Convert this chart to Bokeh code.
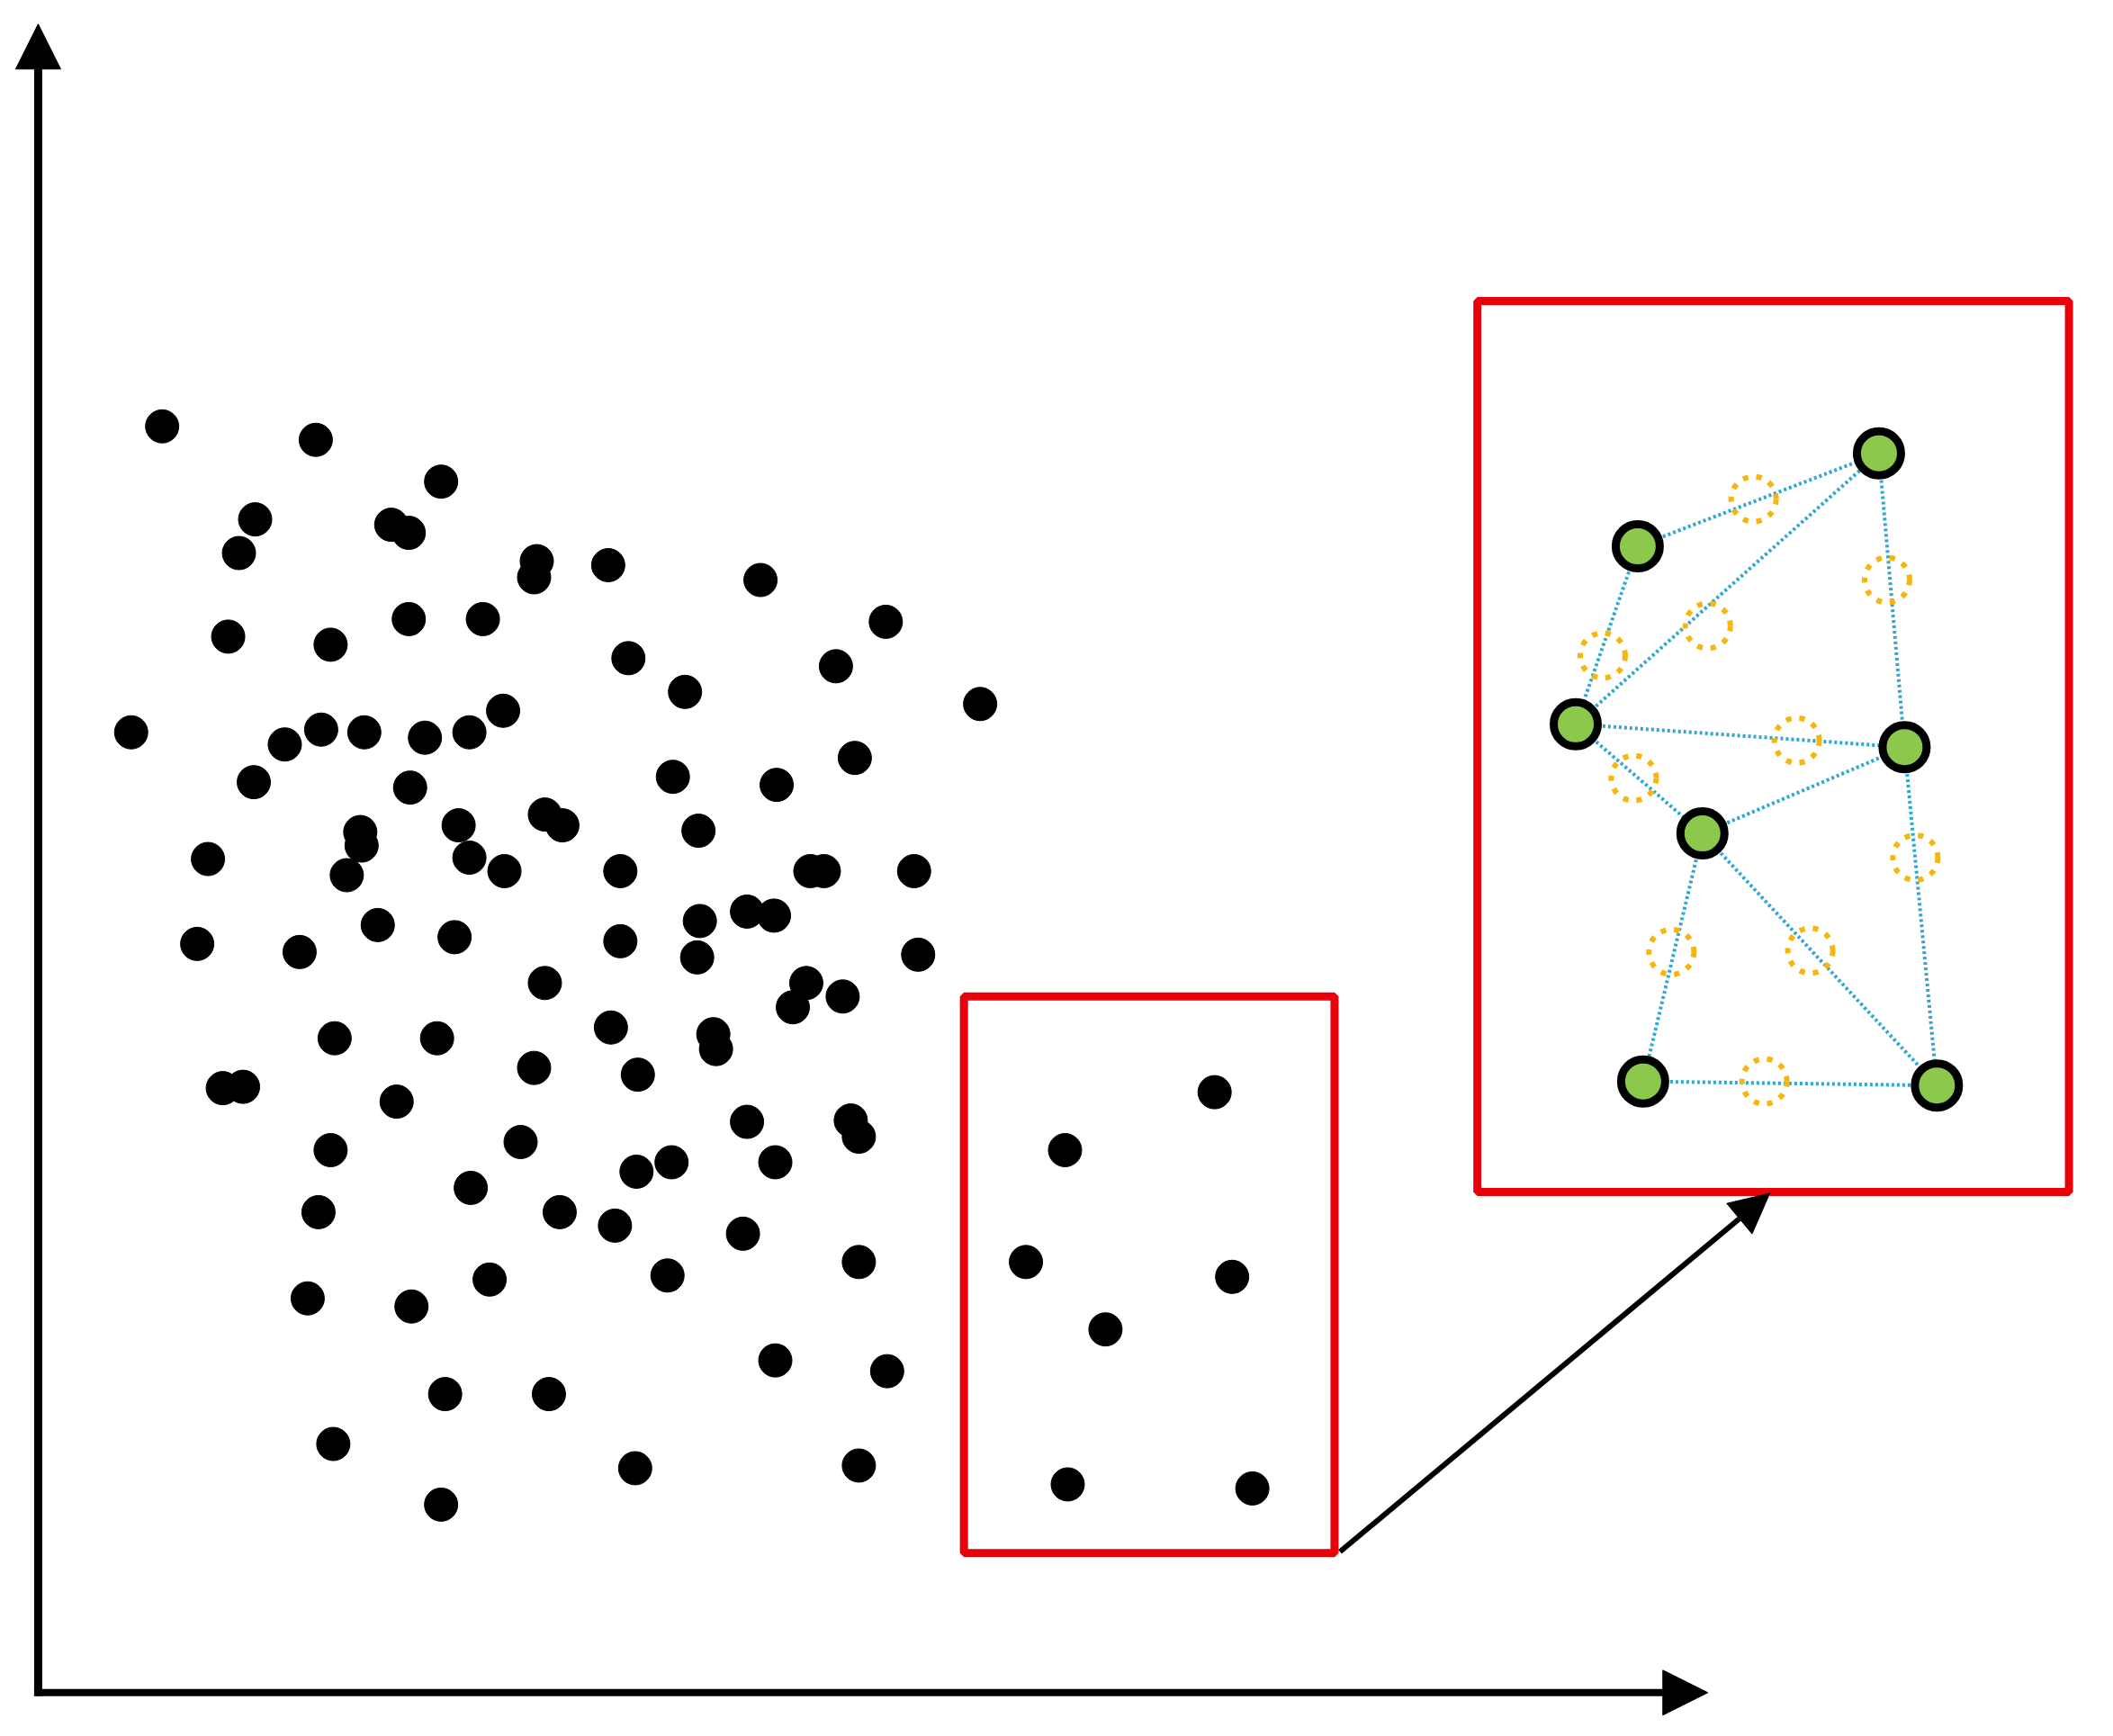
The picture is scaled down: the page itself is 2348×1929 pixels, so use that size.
from bokeh.plotting import figure
from bokeh.models import Range1d, Arrow, NormalHead
from bokeh.embed import file_html
from bokeh.resources import INLINE

# reference coordinates (image space of the 1568x1288 view, y grows downward)
SX = 2348 / 1568
SY = 1929 / 1288

# majority-class scatter points
dots_x = [120, 234, 327, 189, 290, 303, 177, 398, 396, 451, 564, 169, 245, 303, 358, 657,
          466, 620, 508, 727, 97, 211, 238, 270, 315, 348, 373, 634, 188, 304, 499, 576,
          267, 268, 340, 404, 417, 518, 154, 257, 348, 374, 460, 601, 611, 678, 146, 222,
          280, 337, 460, 519, 517, 554, 574, 681, 404, 598, 588, 625, 248, 324, 453, 529,
          531, 165, 180, 294, 396, 473, 245, 386, 554, 631, 637, 349, 472, 498, 575, 236,
          415, 456, 551, 228, 305, 363, 495, 637, 575, 658, 330, 407, 247, 471, 637, 327]
dots_y = [316, 326, 357, 385, 389, 395, 410, 416, 428, 419, 430, 472, 478, 459, 459, 461,
          488, 494, 513, 522, 543, 552, 541, 543, 547, 543, 527, 562, 580, 584, 576, 582,
          617, 627, 612, 604, 612, 616, 637, 649, 636, 646, 646, 646, 646, 646, 700, 706,
          686, 695, 698, 683, 710, 676, 679, 708, 729, 729, 747, 739, 770, 770, 762, 767,
          778, 807, 806, 817, 792, 797, 853, 847, 832, 831, 843, 881, 869, 862, 862, 899,
          899, 909, 915, 963, 969, 949, 946, 936, 1009, 1017, 1034, 1034, 1071, 1089, 1087, 1116]

# minority-class points inside the small box
box_dots_x = [901, 790, 761, 914, 820, 792, 929]
box_dots_y = [810, 853, 936, 947, 986, 1101, 1104]

# zoomed view: minority nodes
node_x = [1394, 1215, 1169, 1413, 1263, 1219, 1437]
node_y = [336, 405, 537, 554, 618, 802, 805]

# neighbour links (indices into node lists)
link_from = [1, 2, 0, 1, 2, 2, 4, 3, 4, 4, 5]
link_to   = [0, 0, 3, 2, 3, 4, 3, 6, 5, 6, 6]

# synthetic samples
synth_x = [1301, 1400, 1267, 1189, 1333, 1212, 1421, 1240, 1343, 1309]
synth_y = [370, 430, 464, 486, 549, 577, 636, 706, 705, 802]

# boxes: small selection and zoomed view
box_left = [715, 1096]
box_right = [990, 1535]
box_top = [739, 223]
box_bottom = [1152, 884]

p = figure(width=2332, height=1913,
           x_range=Range1d(0, 2332 / SX),
           y_range=Range1d(1913 / SY, 0),
           output_backend="svg", toolbar_location=None,
           min_border=0, x_axis_type=None, y_axis_type=None)
p.grid.visible = False
p.outline_line_color = None
p.background_fill_color = "white"

# axes as arrows
p.add_layout(Arrow(end=NormalHead(size=50, fill_color="black", line_color="black"),
                   x_start=28, y_start=1258, x_end=28, y_end=17.5,
                   line_width=9, line_color="black"))
p.add_layout(Arrow(end=NormalHead(size=50, fill_color="black", line_color="black"),
                   x_start=25, y_start=1255.5, x_end=1267, y_end=1255.5,
                   line_width=8, line_color="black"))

# red boxes
p.quad(left=box_left, right=box_right, top=box_top, bottom=box_bottom,
       fill_color=None, line_color="#E8000B", line_width=9)

# scatter points
p.scatter(dots_x, dots_y, size=37, color="black")
p.scatter(box_dots_x, box_dots_y, size=37, color="black")

# connecting arrow
p.add_layout(Arrow(end=NormalHead(size=44, fill_color="black", line_color="black"),
                   x_start=994, y_start=1151, x_end=1313, y_end=885,
                   line_width=6, line_color="black"))

# neighbour links
p.segment(x0=[node_x[i] for i in link_from], y0=[node_y[i] for i in link_from],
          x1=[node_x[i] for i in link_to], y1=[node_y[i] for i in link_to],
          line_color="#2EA6D6", line_width=4, line_dash="3 3")

# synthetic samples
p.scatter(synth_x, synth_y, size=50, fill_color=None, line_color="#F5B70F",
          line_width=6, line_dash="6 9")

# minority nodes
p.scatter(node_x, node_y, size=49, fill_color="#8CC84B", line_color="black", line_width=9)

open("out.html", "w").write(file_html(p, INLINE))
